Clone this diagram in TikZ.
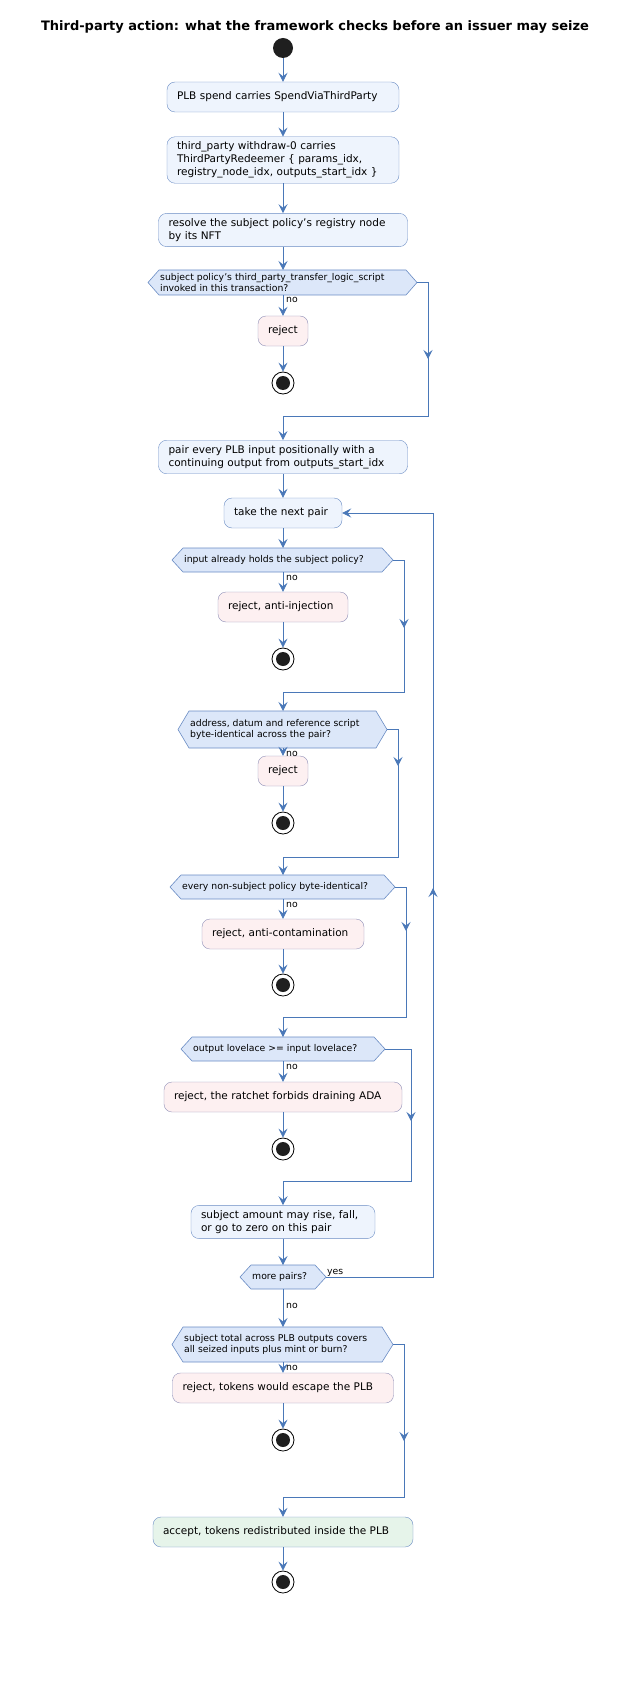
\documentclass[tikz,border=0pt]{standalone}
\usepackage{fontspec}
\setmainfont{DejaVu Sans}
\usetikzlibrary{arrows.meta}
\definecolor{ln}{HTML}{4A78B8}
\definecolor{bfill}{HTML}{EEF4FD}
\definecolor{bdraw}{HTML}{6A8CC4}
\definecolor{rfill}{HTML}{FDF0F1}
\definecolor{rdraw}{HTML}{9090B8}
\definecolor{dfill}{HTML}{DCE7F9}
\definecolor{afill}{HTML}{E6F4EA}
\tikzset{
 box/.style={draw=bdraw,fill=bfill,rounded corners=8pt,inner xsep=10pt,inner ysep=5pt,align=left,font=\fontsize{10.5}{13}\selectfont,minimum height=30pt},
 rbox/.style={box,draw=rdraw,fill=rfill},
 abox/.style={box,fill=afill},
 hexs/.style={draw=bdraw,fill=dfill,line width=0.6pt},
 htxt/.style={font=\fontsize{9.3}{11}\selectfont,align=left,inner sep=0pt,anchor=west},
 lbl/.style={font=\fontsize{9.3}{11}\selectfont,inner sep=1pt},
 ln/.style={draw=ln,line width=0.8pt},
 arr/.style={ln,-{Stealth[length=9pt,width=9pt,inset=3.5pt]}},
}
\newcommand\hexa[6]{%
 \path[hexs] (#2,{(#4+#5)/2}) -- ({#2+11},#4) -- ({#3-11},#4) -- (#3,{(#4+#5)/2}) -- ({#3-11},#5) -- ({#2+11},#5) -- cycle;
 \coordinate (#1-n) at (283,#4);
 \coordinate (#1-s) at (283,#5);
 \coordinate (#1-e) at (#3,{(#4+#5)/2});
 \node[htxt] (#1) at ({#2+12},{(#4+#5)/2}) {#6};}
\newcommand\stopn[2]{%
 \node[circle,draw=black,line width=0.8pt,fill=white,minimum size=22pt,inner sep=0pt] (#1) at (283,#2) {};
 \fill[black!88] (283,#2) circle (7pt);}
\begin{document}
\begin{tikzpicture}[x=1pt,y=-1pt]
\useasboundingbox (0,0) rectangle (630,1685);
\node[font=\bfseries\fontsize{13}{15}\selectfont] (title) at (315,27) {Third-party action: what the framework checks before an issuer may seize};
\node[circle,fill=black!88,minimum size=20pt,inner sep=0pt] (st) at (283,48) {};
\node[box,text width=212pt] (b1) at (283,97) {PLB spend carries SpendViaThirdParty};
\node[box,text width=212pt] (b2) at (283,160) {third\_party withdraw-0 carries\\ThirdPartyRedeemer \{ params\_idx,\\registry\_node\_idx, outputs\_start\_idx \}};
\node[box,text width=229pt] (b3) at (283,230) {resolve the subject policy's registry node\\by its NFT};
\hexa{d1}{148}{417}{270}{295}{subject policy's third\_party\_transfer\_logic\_script\\invoked in this transaction?}
\node[rbox,text width=30pt] (r1) at (283,331) {reject};
\stopn{s1}{383}
\node[box,text width=229pt] (b4) at (283,457) {pair every PLB input positionally with a\\continuing output from outputs\_start\_idx};
\node[box,text width=98pt] (b5) at (283,513) {take the next pair};
\hexa{d2}{172}{393}{548}{572}{input already holds the subject policy?}
\node[rbox,text width=110pt] (r2) at (283,607) {reject, anti-injection};
\stopn{s2}{659}
\hexa{d3}{178}{387}{711}{748}{address, datum and reference script\\byte-identical across the pair?}
\node[rbox,text width=30pt] (r3) at (283,771) {reject};
\stopn{s3}{823}
\hexa{d4}{170}{395}{875}{899}{every non-subject policy byte-identical?}
\node[rbox,text width=142pt] (r4) at (283,934) {reject, anti-contamination};
\stopn{s4}{985}
\hexa{d5}{181}{385}{1037}{1061}{output lovelace >= input lovelace?}
\node[rbox,text width=218pt] (r5) at (283,1097) {reject, the ratchet forbids draining ADA};
\stopn{s5}{1149}
\node[box,text width=164pt] (b6) at (283,1222) {subject amount may rise, fall,\\or go to zero on this pair};
\hexa{d6}{240}{326}{1265}{1289}{more pairs?}
\hexa{d7}{172}{393}{1327}{1362}{subject total across PLB outputs covers\\all seized inputs plus mint or burn?}
\node[rbox,text width=201pt] (r7) at (283,1388) {reject, tokens would escape the PLB};
\stopn{s7}{1440}
\node[abox,text width=240pt] (acc) at (283,1532) {accept, tokens redistributed inside the PLB};
\stopn{s8}{1582}
% main flow
\draw[arr] (st) -- (b1);
\draw[arr] (b1) -- (b2);
\draw[arr] (b2) -- (b3);
\draw[arr] (b3) -- (d1-n);
\draw[arr] (d1-s) -- (r1);
\draw[arr] (r1) -- (s1);
\draw[arr] (b4) -- (b5);
\draw[arr] (b5) -- (d2-n);
\draw[arr] (d2-s) -- (r2);
\draw[arr] (r2) -- (s2);
\draw[arr] (d3-s) -- (r3);
\draw[arr] (r3) -- (s3);
\draw[arr] (d4-s) -- (r4);
\draw[arr] (r4) -- (s4);
\draw[arr] (d5-s) -- (r5);
\draw[arr] (r5) -- (s5);
\draw[arr] (b6) -- (d6-n);
\draw[arr] (d6-s) -- (d7-n);
\draw[arr] (d7-s) -- (r7);
\draw[arr] (r7) -- (s7);
\draw[arr] (acc) -- (s8);
% no labels
\foreach \y in {300,578,754,905,1067,1306,1368} \node[lbl,anchor=west] at (285,\y) {no};
\node[lbl,anchor=south west] at (326,1278) {yes};
% right branches
\draw[arr] (d1-e) -| (428,359);
\draw[arr] (428,352) -- (428,416) -- (283,416) -- (b4.north);
\draw[arr] (d2-e) -| (404,628);
\draw[arr] (404,620) -- (404,692) -- (283,692) -- (d3-n);
\draw[arr] (d3-e) -| (398,766);
\draw[arr] (398,760) -- (398,857) -- (283,857) -- (d4-n);
\draw[arr] (d4-e) -| (406,931);
\draw[arr] (406,925) -- (406,1017) -- (283,1017) -- (d5-n);
\draw[arr] (d5-e) -| (411,1121);
\draw[arr] (411,1115) -- (411,1181) -- (283,1181) -- (b6.north);
\draw[arr] (d7-e) -| (404,1441);
\draw[arr] (404,1435) -- (404,1497) -- (283,1497) -- (acc.north);
% loop
\draw[arr] (d6-e) -| (433,888);
\draw[arr] (433,895) |- (b5.east);
\end{tikzpicture}
\end{document}
